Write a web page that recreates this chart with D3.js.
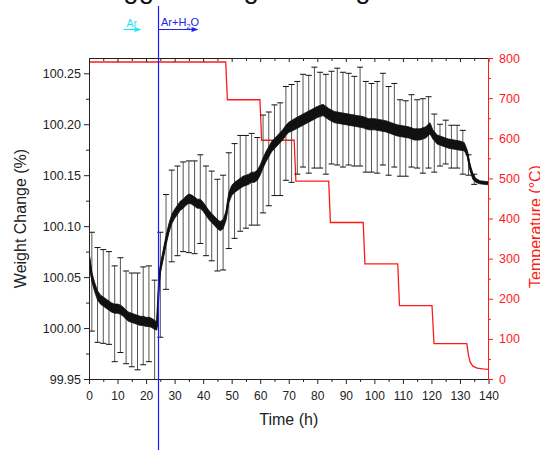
<!DOCTYPE html>
<html>
<head>
<meta charset="utf-8">
<script src="https://cdn.jsdelivr.net/npm/d3@7"></script>
<style>
  html, body { margin: 0; padding: 0; background: #fff; }
  svg { display: block; font-family: "Liberation Sans", Arial, sans-serif; }
</style>
</head>
<body>
<svg id="chart" width="540" height="450"></svg>
<script>
// ---- Weight change (%) vs time (h): mean trace and the width of its noise band
const timeH = [
  0, 0.5, 1, 2, 3, 4, 5, 6, 7, 8, 9, 10, 11, 12, 13, 14, 15, 16, 17, 18, 19, 20, 21, 22, 23, 23.8,
  24.2, 24.6, 25, 26, 27, 28, 29, 30, 31, 32, 33, 34, 35, 36, 37, 38, 39, 40, 41, 42, 43, 44, 45, 46, 47, 48,
  49, 50, 51, 52, 53, 54, 55, 56, 57, 58, 59, 60, 61, 62, 63, 64, 65, 66, 67, 68, 69, 70,
  72, 74, 76, 78, 80, 82, 84, 86, 88, 90, 92, 94, 96, 98, 100, 102, 104, 106, 108, 110, 112, 114, 116, 118,
  119.5, 120.5, 122, 124, 126, 128, 130, 131.5, 132.5, 133.5, 134.5, 135.5, 137, 140
];
const weightPct = [
  100.070, 100.060, 100.050, 100.040, 100.032, 100.028, 100.026, 100.024, 100.022, 100.020, 100.019, 100.019, 100.018,
  100.016, 100.013, 100.011, 100.010, 100.009, 100.008, 100.007, 100.007, 100.006, 100.006, 100.005, 100.003, 100.002,
  100.025, 100.048, 100.058, 100.072, 100.086, 100.098, 100.107, 100.112, 100.116, 100.120, 100.122, 100.125, 100.127,
  100.126, 100.124, 100.122, 100.122, 100.119, 100.115, 100.111, 100.108, 100.105, 100.102, 100.100, 100.102, 100.110,
  100.128, 100.135, 100.138, 100.140, 100.142, 100.144, 100.145, 100.146, 100.148, 100.148, 100.150, 100.155, 100.162,
  100.168, 100.173, 100.178, 100.181, 100.184, 100.187, 100.190, 100.194, 100.197,
  100.200, 100.203, 100.206, 100.209, 100.212, 100.214, 100.210, 100.207, 100.206, 100.205, 100.204, 100.203,
  100.202, 100.200, 100.200, 100.199, 100.198, 100.196, 100.194, 100.193, 100.192, 100.190, 100.190, 100.192,
  100.196, 100.190, 100.185, 100.183, 100.181, 100.180, 100.179, 100.178, 100.172, 100.158, 100.149, 100.145, 100.143, 100.142
];
const noiseHalf = [
  0.0045, 0.0045, 0.0045, 0.0045, 0.0045, 0.0045, 0.0045, 0.0045, 0.0045, 0.0045, 0.0045, 0.0045, 0.0045,
  0.0045, 0.0045, 0.0045, 0.0045, 0.0045, 0.0045, 0.0045, 0.0045, 0.0045, 0.0045, 0.0045, 0.0045, 0.004,
  0.003, 0.003, 0.004, 0.0045, 0.0045, 0.0045, 0.0045, 0.0045, 0.0045, 0.0045, 0.0045, 0.0045, 0.0045,
  0.0045, 0.0045, 0.0045, 0.0045, 0.0045, 0.0045, 0.0045, 0.0045, 0.0045, 0.0045, 0.0045, 0.0045, 0.0045,
  0.005, 0.005, 0.005, 0.005, 0.005, 0.005, 0.005, 0.005, 0.005, 0.005, 0.005, 0.005, 0.005,
  0.005, 0.005, 0.005, 0.005, 0.005, 0.005, 0.005, 0.005, 0.005,
  0.0055, 0.0055, 0.0055, 0.0055, 0.0055, 0.0055, 0.0055, 0.0055, 0.0055, 0.0055, 0.0055, 0.0055,
  0.0055, 0.0055, 0.0055, 0.0055, 0.0055, 0.0055, 0.0055, 0.0055, 0.0055, 0.0055, 0.0055, 0.0055,
  0.0055, 0.0045, 0.0045, 0.0045, 0.0045, 0.0045, 0.0045, 0.004, 0.003, 0.003, 0.003, 0.002, 0.0015, 0.0015
];

// ---- Error bars, every 2 h
const barTime = [
  1, 3, 5, 7, 9, 11, 13, 15, 17, 19, 21, 23,
  25, 27, 29, 31, 33, 35, 37, 39, 41, 43, 45, 47,
  49, 51, 53, 55, 57, 59, 61, 63, 65, 67, 69, 71,
  73, 75, 77, 79, 81, 83, 85, 87, 89, 91, 93, 95,
  97, 99, 101, 103, 105, 107, 109, 111, 113, 115, 117, 119,
  121, 123, 125, 127, 129, 131, 133, 135
];
const barHigh = [
  100.094, 100.079, 100.077, 100.075, 100.061, 100.069, 100.056, 100.054, 100.054, 100.060, 100.061, 100.047,
  100.094, 100.131, 100.155, 100.159, 100.163, 100.164, 100.164, 100.170, 100.159, 100.154, 100.146, 100.150,
  100.172, 100.181, 100.189, 100.189, 100.191, 100.187, 100.209, 100.212, 100.219, 100.221, 100.237, 100.239,
  100.242, 100.249, 100.248, 100.256, 100.251, 100.249, 100.252, 100.255, 100.251, 100.250, 100.247, 100.256,
  100.242, 100.240, 100.242, 100.250, 100.237, 100.240, 100.224, 100.223, 100.229, 100.224, 100.225, 100.227,
  100.210, 100.200, 100.204, 100.199, 100.199, 100.194, 100.170, 100.151
];
const barLow = [
  99.997, 99.986, 99.985, 99.984, 99.967, 99.976, 99.965, 99.962, 99.959, 99.964, 99.967, 99.947,
  99.991, 100.038, 100.065, 100.071, 100.075, 100.074, 100.073, 100.083, 100.071, 100.066, 100.056, 100.057,
  100.078, 100.088, 100.095, 100.098, 100.101, 100.101, 100.113, 100.120, 100.130, 100.130, 100.145, 100.143,
  100.151, 100.158, 100.152, 100.157, 100.157, 100.151, 100.161, 100.160, 100.158, 100.160, 100.159, 100.159,
  100.153, 100.153, 100.152, 100.160, 100.150, 100.158, 100.149, 100.149, 100.158, 100.157, 100.152, 100.157,
  100.153, 100.159, 100.161, 100.157, 100.157, 100.151, 100.150, 100.141
];

// ---- Furnace temperature programme (°C)
const tempTime = [0, 47.9, 48.5, 59.9, 60.5, 71.9, 72.5, 84.0, 84.6, 96.1, 96.7, 108.2, 108.8, 120.2, 120.9, 132.4, 133.0, 133.6, 134.5, 136, 138, 140];
const tempC    = [790, 790, 696, 696, 595, 595, 493, 493, 390, 390, 287, 287, 183, 183, 88, 88, 58, 42, 32, 27, 25, 24];

// ---- Axis ticks
const timeTicks = [0, 10, 20, 30, 40, 50, 60, 70, 80, 90, 100, 110, 120, 130, 140];
const weightTicks = [99.95, 100.00, 100.05, 100.10, 100.15, 100.20, 100.25];
const tempTicks = [0, 100, 200, 300, 400, 500, 600, 700, 800];

// ---- Atmosphere switch (Ar -> Ar + H2O)
const gasSwitchTime = 24.2;

const svg = d3.select("#chart");
const pL = 89, pR = 488.5, pT = 58, pB = 379;
const x  = d3.scaleLinear().domain([0, 140]).range([pL, pR]);
const yW = d3.scaleLinear().domain([99.95, 100.265]).range([pB, pT]);
const yT = d3.scaleLinear().domain([0, 800]).range([pB, pT]);

const ink = "#222";
const red = "#ff1a1a";

svg.append("defs").append("clipPath").attr("id", "plotClip")
  .append("rect").attr("x", pL).attr("y", pT).attr("width", pR - pL).attr("height", pB - pT);

// Title line (sits mostly above the visible page)
svg.append("text").attr("x", 83.6).attr("y", -2).attr("font-size", 27.5).attr("fill", "#111")
  .text("Sluggish Weight Change");

const plot = svg.append("g").attr("clip-path", "url(#plotClip)");

// Temperature trace
plot.append("path")
  .datum(tempTime.map((t, i) => [t, tempC[i]]))
  .attr("fill", "none").attr("stroke", red).attr("stroke-width", 1.3)
  .attr("d", d3.line().x(d => x(d[0])).y(d => yT(d[1])));

// Error bars
const bars = plot.append("g").attr("stroke", "#111").attr("stroke-width", 1);
barTime.forEach((t, i) => {
  const bx = x(t), y1 = yW(barHigh[i]), y0 = yW(barLow[i]);
  bars.append("line").attr("x1", bx).attr("x2", bx).attr("y1", y1).attr("y2", y0).attr("stroke", "#555");
  bars.append("line").attr("x1", bx - 3).attr("x2", bx + 3).attr("y1", y1).attr("y2", y1);
  bars.append("line").attr("x1", bx - 3).attr("x2", bx + 3).attr("y1", y0).attr("y2", y0);
});

// Weight trace: noise band plus centre line
const wData = timeH.map((t, i) => ({ t, w: weightPct[i], h: noiseHalf[i] }));
plot.append("path").datum(wData)
  .attr("fill", "#111").attr("stroke", "#111").attr("stroke-width", 0.8)
  .attr("d", d3.area().x(d => x(d.t)).y0(d => yW(d.w - d.h)).y1(d => yW(d.w + d.h)));
plot.append("path").datum(wData)
  .attr("fill", "none").attr("stroke", "#111").attr("stroke-width", 2)
  .attr("d", d3.line().x(d => x(d.t)).y(d => yW(d.w)));

// ---- Axes
function styleAxis(g, color, fontSize) {
  g.selectAll("path").attr("stroke", color);
  g.selectAll("line").attr("stroke", color);
  g.selectAll("text").attr("fill", color).attr("font-size", fontSize)
    .attr("font-family", "'Liberation Sans', Arial, sans-serif");
}

const minorTime = d3.range(5, 140, 10);
const minorWeight = d3.range(0, 6).map(i => 99.975 + i * 0.05);
const minorTemp = d3.range(50, 800, 100);

// bottom
const gx = svg.append("g").attr("transform", `translate(0,${pB})`)
  .call(d3.axisBottom(x).tickValues(timeTicks).tickFormat(d3.format("d")).tickSize(5).tickSizeOuter(0).tickPadding(7));
styleAxis(gx, ink, 12);
const gxm = svg.append("g").attr("transform", `translate(0,${pB})`)
  .call(d3.axisBottom(x).tickValues(minorTime).tickFormat("").tickSize(3).tickSizeOuter(0));
styleAxis(gxm, ink, 12);

// top (ticks pointing inward)
const gt = svg.append("g").attr("transform", `translate(0,${pT})`)
  .call(d3.axisBottom(x).tickValues(timeTicks).tickFormat("").tickSize(4).tickSizeOuter(0));
styleAxis(gt, ink, 12);
const gtm = svg.append("g").attr("transform", `translate(0,${pT})`)
  .call(d3.axisBottom(x).tickValues(minorTime).tickFormat("").tickSize(3).tickSizeOuter(0));
styleAxis(gtm, ink, 12);

// left
const gy = svg.append("g").attr("transform", `translate(${pL},0)`)
  .call(d3.axisLeft(yW).tickValues(weightTicks).tickFormat(d3.format(".2f")).tickSize(5).tickSizeOuter(0).tickPadding(3));
styleAxis(gy, ink, 12.5);
const gym = svg.append("g").attr("transform", `translate(${pL},0)`)
  .call(d3.axisLeft(yW).tickValues(minorWeight).tickFormat("").tickSize(3).tickSizeOuter(0));
styleAxis(gym, ink, 12.5);

// right (temperature)
const gr = svg.append("g").attr("transform", `translate(${pR - 0.5},0)`)
  .call(d3.axisRight(yT).tickValues(tempTicks).tickFormat(d3.format("d")).tickSize(5).tickSizeOuter(0).tickPadding(6));
styleAxis(gr, red, 12.5);
const grm = svg.append("g").attr("transform", `translate(${pR - 0.5},0)`)
  .call(d3.axisRight(yT).tickValues(minorTemp).tickFormat("").tickSize(3).tickSizeOuter(0));
styleAxis(grm, red, 12.5);

// Axis titles
svg.append("text").attr("x", (pL + pR) / 2).attr("y", 425).attr("text-anchor", "middle")
  .attr("font-size", 16).attr("fill", ink).text("Time (h)");
svg.append("text").attr("transform", `translate(26,${(pT + pB) / 2}) rotate(-90)`)
  .attr("text-anchor", "middle").attr("font-size", 16).attr("fill", ink).text("Weight Change (%)");
svg.append("text").attr("transform", `translate(541,${(pT + pB) / 2 + 8}) rotate(-90)`)
  .attr("text-anchor", "middle").attr("font-size", 16).attr("fill", red).text("Temperature (°C)");

// ---- Atmosphere annotation
const xs = Math.round(x(gasSwitchTime)) + 0.5;
svg.append("line").attr("x1", xs).attr("x2", xs).attr("y1", 6).attr("y2", 450)
  .attr("stroke", "#1a1aff").attr("stroke-width", 1.2);

function arrow(x0, x1, y, color) {
  svg.append("line").attr("x1", x0).attr("x2", x1 - 5).attr("y1", y).attr("y2", y)
    .attr("stroke", color).attr("stroke-width", 1.2);
  svg.append("path").attr("d", `M${x1},${y} L${x1 - 7},${y - 2.5} L${x1 - 7},${y + 2.5} Z`).attr("fill", color);
}
const cyan = "#22e4f4", blue = "#2222ee";
arrow(x(12.1), x(18.4), 29.5, cyan);
svg.append("text").attr("x", x(13.1)).attr("y", 27).attr("font-size", 10.5).attr("fill", cyan).text("Ar");
arrow(xs, x(38.4), 29.5, blue);
const lbl = svg.append("text").attr("x", xs + 2.5).attr("y", 26).attr("font-size", 11).attr("fill", blue);
lbl.append("tspan").text("Ar+H");
lbl.append("tspan").attr("font-size", 7.5).attr("dy", 2.5).text("2");
lbl.append("tspan").attr("dy", -2.5).text("O");
</script>
</body>
</html>
